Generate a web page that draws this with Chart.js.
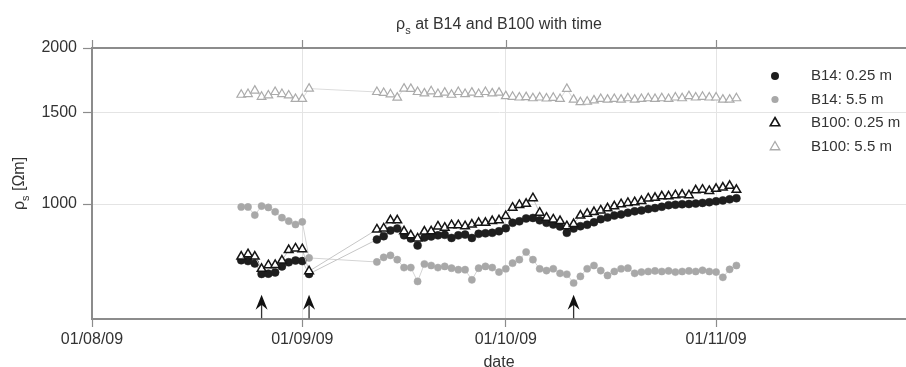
<!DOCTYPE html>
<html><head><meta charset="utf-8">
<script src="https://cdn.jsdelivr.net/npm/chart.js@4.4.0/dist/chart.umd.min.js"></script>
<style>html,body{margin:0;padding:0;background:#fff;}#wrap{width:906px;height:367px;}</style>
</head><body><div id="wrap"><canvas id="c" width="906" height="367"></canvas></div>
<script>
// ---- data ----
const dates = [
 '2009-08-23','2009-08-24','2009-08-25','2009-08-26','2009-08-27','2009-08-28','2009-08-29','2009-08-30','2009-08-31','2009-09-01','2009-09-02',
 '2009-09-12','2009-09-13','2009-09-14','2009-09-15','2009-09-16','2009-09-17','2009-09-18','2009-09-19','2009-09-20','2009-09-21',
 '2009-09-22','2009-09-23','2009-09-24','2009-09-25','2009-09-26','2009-09-27','2009-09-28','2009-09-29','2009-09-30','2009-10-01',
 '2009-10-02','2009-10-03','2009-10-04','2009-10-05','2009-10-06','2009-10-07','2009-10-08','2009-10-09','2009-10-10','2009-10-11',
 '2009-10-12','2009-10-13','2009-10-14','2009-10-15','2009-10-16','2009-10-17','2009-10-18','2009-10-19','2009-10-20','2009-10-21',
 '2009-10-22','2009-10-23','2009-10-24','2009-10-25','2009-10-26','2009-10-27','2009-10-28','2009-10-29','2009-10-30','2009-10-31',
 '2009-11-01','2009-11-02','2009-11-03','2009-11-04'
];
const b14_025 = [
 779,776,768,733,734,738,758,772,778,776,733,
 854,867,889,897,870,858,832,862,866,870,
 872,860,870,873,860,876,878,880,886,898,
 920,926,938,940,930,920,913,905,880,897,
 906,912,922,935,942,950,955,962,968,972,
 978,982,988,995,997,999,1000,1002,1005,1008,
 1012,1016,1021,1026
];
const b14_55 = [
 987,987,952,991,985,966,941,927,913,924,787,
 773,789,796,781,754,754,709,766,761,754,
 758,752,747,747,714,752,758,754,739,750,
 769,781,808,781,750,744,750,735,732,704,
 725,750,761,744,728,741,750,752,735,739,
 741,743,741,743,739,741,743,741,745,741,
 739,722,748,761
];
const b100_025 = [
 792,800,792,750,762,763,778,815,821,818,742,
 893,897,930,930,886,870,858,885,886,905,
 900,910,910,906,913,920,920,927,930,948,
 984,996,1001,1026,962,941,934,927,906,915,
 950,958,965,972,981,990,999,1005,1008,1013,
 1025,1028,1035,1035,1040,1043,1040,1063,1066,1060,
 1070,1076,1084,1065
];
const b100_55 = [
 1625,1630,1655,1610,1620,1645,1630,1620,1595,1595,1670,
 1645,1638,1628,1604,1670,1668,1645,1635,1650,1630,
 1640,1625,1645,1630,1640,1630,1645,1635,1640,1615,
 1610,1605,1608,1600,1605,1598,1603,1595,1668,1590,
 1572,1575,1585,1595,1590,1595,1590,1600,1590,1595,
 1600,1595,1600,1595,1605,1600,1615,1605,1610,1605,
 1605,1590,1590,1600
];
const seriesNames = ['B14: 0.25 m','B14: 5.5 m','B100: 0.25 m','B100: 5.5 m'];
const tickDates = ['2009-08-01','2009-09-01','2009-10-01','2009-11-01'];
const tickLabels = ['01/08/09','01/09/09','01/10/09','01/11/09'];
const yTicks = [1000,1500,2000];
const xRange = ['2009-08-01','2009-11-29'];
const yRange = [600,2000];
const arrowDates = ['2009-08-26','2009-09-02','2009-10-11'];
const arrowTip = 668, arrowTail = 602;

// ---- helpers ----
const origin = Date.parse('2009-08-01');
const day = s => (Date.parse(s) - origin) / 86400000;
const pts = arr => arr.map((v,i)=>({x: day(dates[i]), y: v}));
const tickDays = tickDates.map(day);
const FONT = "'Liberation Sans', Arial, Helvetica, sans-serif";

const decor = {
  id:'decor',
  afterDraw(chart){
    const {ctx, chartArea:ca, scales:{x,y}} = chart;
    ctx.save();
    // top border with outward ticks
    ctx.strokeStyle='#8c8c8c'; ctx.lineWidth=2;
    ctx.beginPath(); ctx.moveTo(ca.left-1, ca.top); ctx.lineTo(ca.right, ca.top); ctx.stroke();
    ctx.lineWidth=1.2;
    tickDays.forEach(d=>{ const px=Math.round(x.getPixelForValue(d))+0.5; ctx.beginPath(); ctx.moveTo(px, ca.top); ctx.lineTo(px, ca.top-8); ctx.stroke(); });
    // arrows
    ctx.fillStyle='#111'; ctx.strokeStyle='#333'; ctx.lineWidth=1.3;
    arrowDates.forEach(d=>{
      const px = x.getPixelForValue(day(d));
      const ty = y.getPixelForValue(arrowTip), by = y.getPixelForValue(arrowTail);
      ctx.beginPath(); ctx.moveTo(px, ty+8); ctx.lineTo(px, by); ctx.stroke();
      ctx.beginPath(); ctx.moveTo(px, ty); ctx.lineTo(px+6, ty+15); ctx.lineTo(px, ty+10); ctx.lineTo(px-6, ty+15); ctx.closePath(); ctx.fill();
    });
    // title
    ctx.fillStyle='#333'; ctx.textBaseline='alphabetic';
    const rest=' at B14 and B100 with time';
    ctx.font='16px '+FONT; const w1=ctx.measureText('\u03c1').width, w3=ctx.measureText(rest).width;
    ctx.font='11px '+FONT; const w2=ctx.measureText('s').width;
    let tx = (ca.left+ca.right)/2 - (w1+w2+w3)/2; const tyb=29;
    ctx.font='16px '+FONT; ctx.fillText('\u03c1', tx, tyb); tx+=w1;
    ctx.font='11px '+FONT; ctx.fillText('s', tx, tyb+5); tx+=w2;
    ctx.font='16px '+FONT; ctx.fillText(rest, tx, tyb);
    // y title
    ctx.save();
    ctx.translate(24, (ca.top+ca.bottom)/2); ctx.rotate(-Math.PI/2);
    const r2=' [\u03a9m]';
    ctx.font='16px '+FONT; const a1=ctx.measureText('\u03c1').width, a3=ctx.measureText(r2).width;
    ctx.font='11px '+FONT; const a2=ctx.measureText('s').width;
    let yx=-(a1+a2+a3)/2;
    ctx.font='16px '+FONT; ctx.fillText('\u03c1', yx, 0); yx+=a1;
    ctx.font='11px '+FONT; ctx.fillText('s', yx, 5); yx+=a2;
    ctx.font='16px '+FONT; ctx.fillText(r2, yx, 0);
    ctx.restore();
    // x title
    ctx.font='16px '+FONT; ctx.textAlign='center';
    ctx.fillText('date', (ca.left+ca.right)/2, 367);
    // legend
    ctx.textAlign='left'; ctx.textBaseline='middle'; ctx.font='15px '+FONT;
    const rows=[76,99.5,123,147], mx=775, tx0=811;
    rows.forEach((ry,i)=>{
      ctx.beginPath();
      if(i<2){
        ctx.fillStyle = i===0 ? '#1e1e1e' : '#a8a8a8';
        ctx.arc(mx, ry, i===0?4:3.6, 0, Math.PI*2); ctx.fill();
      } else {
        const r=5.5;
        ctx.moveTo(mx, ry-r); ctx.lineTo(mx+r*0.866, ry+r/2); ctx.lineTo(mx-r*0.866, ry+r/2); ctx.closePath();
        ctx.fillStyle='#fff'; ctx.fill();
        ctx.strokeStyle = i===2 ? '#151515' : '#ababab'; ctx.lineWidth = i===2?1.6:1.3; ctx.stroke();
      }
      ctx.fillStyle='#333'; ctx.fillText(seriesNames[i], tx0, ry);
    });
    ctx.restore();
  }
};

new Chart(document.getElementById('c'), {
  type:'scatter',
  data:{ datasets:[
    {label:seriesNames[0], data:pts(b14_025), showLine:true, borderColor:'#c6c6c6', borderWidth:1,
     pointStyle:'circle', pointRadius:4, pointBackgroundColor:'#1e1e1e', pointBorderColor:'#1e1e1e', pointBorderWidth:0.5, order:2},
    {label:seriesNames[1], data:pts(b14_55), showLine:true, borderColor:'#d4d4d4', borderWidth:1,
     pointStyle:'circle', pointRadius:3.6, pointBackgroundColor:'#a8a8a8', pointBorderColor:'#a8a8a8', pointBorderWidth:0.5, order:3},
    {label:seriesNames[2], data:pts(b100_025), showLine:true, borderColor:'#c6c6c6', borderWidth:1,
     pointStyle:'triangle', pointRadius:5, pointBackgroundColor:'#ffffff', pointBorderColor:'#151515', pointBorderWidth:1.5, order:0},
    {label:seriesNames[3], data:pts(b100_55), showLine:true, borderColor:'#dcdcdc', borderWidth:1,
     pointStyle:'triangle', pointRadius:5, pointBackgroundColor:'#ffffff', pointBorderColor:'#ababab', pointBorderWidth:1.2, order:1}
  ]},
  options:{
    responsive:false, animation:false, devicePixelRatio:1,
    layout:{autoPadding:false, padding:{top:48,left:0,right:0,bottom:0}},
    plugins:{legend:{display:false}, title:{display:false}, tooltip:{enabled:false}},
    scales:{
      x:{type:'linear', position:'bottom', min:day(xRange[0]), max:day(xRange[1]),
        afterBuildTicks:s=>{ s.ticks = tickDays.map(v=>({value:v})); },
        afterFit:s=>{ s.height = 48; },
        ticks:{autoSkip:false, maxRotation:0, padding:3, color:'#333', font:{size:16, family:FONT},
          callback:v=>{ const i=tickDays.indexOf(v); return i>=0?tickLabels[i]:''; }},
        grid:{color:'#e4e4e4', lineWidth:1, tickLength:8, tickColor:'#8c8c8c', tickWidth:1.2},
        border:{color:'#8c8c8c', width:2}
      },
      y:{type:'logarithmic', position:'left', min:yRange[0], max:yRange[1],
        afterBuildTicks:s=>{ s.ticks = yTicks.map(v=>({value:v})); },
        afterFit:s=>{ s.width = 92; },
        ticks:{padding:6, color:'#333', font:{size:16, family:FONT}, callback:v=>String(v)},
        grid:{color:'#e4e4e4', lineWidth:1, tickLength:9, tickColor:'#8c8c8c', tickWidth:1.2},
        border:{color:'#8c8c8c', width:2}
      }
    }
  },
  plugins:[decor]
});
</script></body></html>
